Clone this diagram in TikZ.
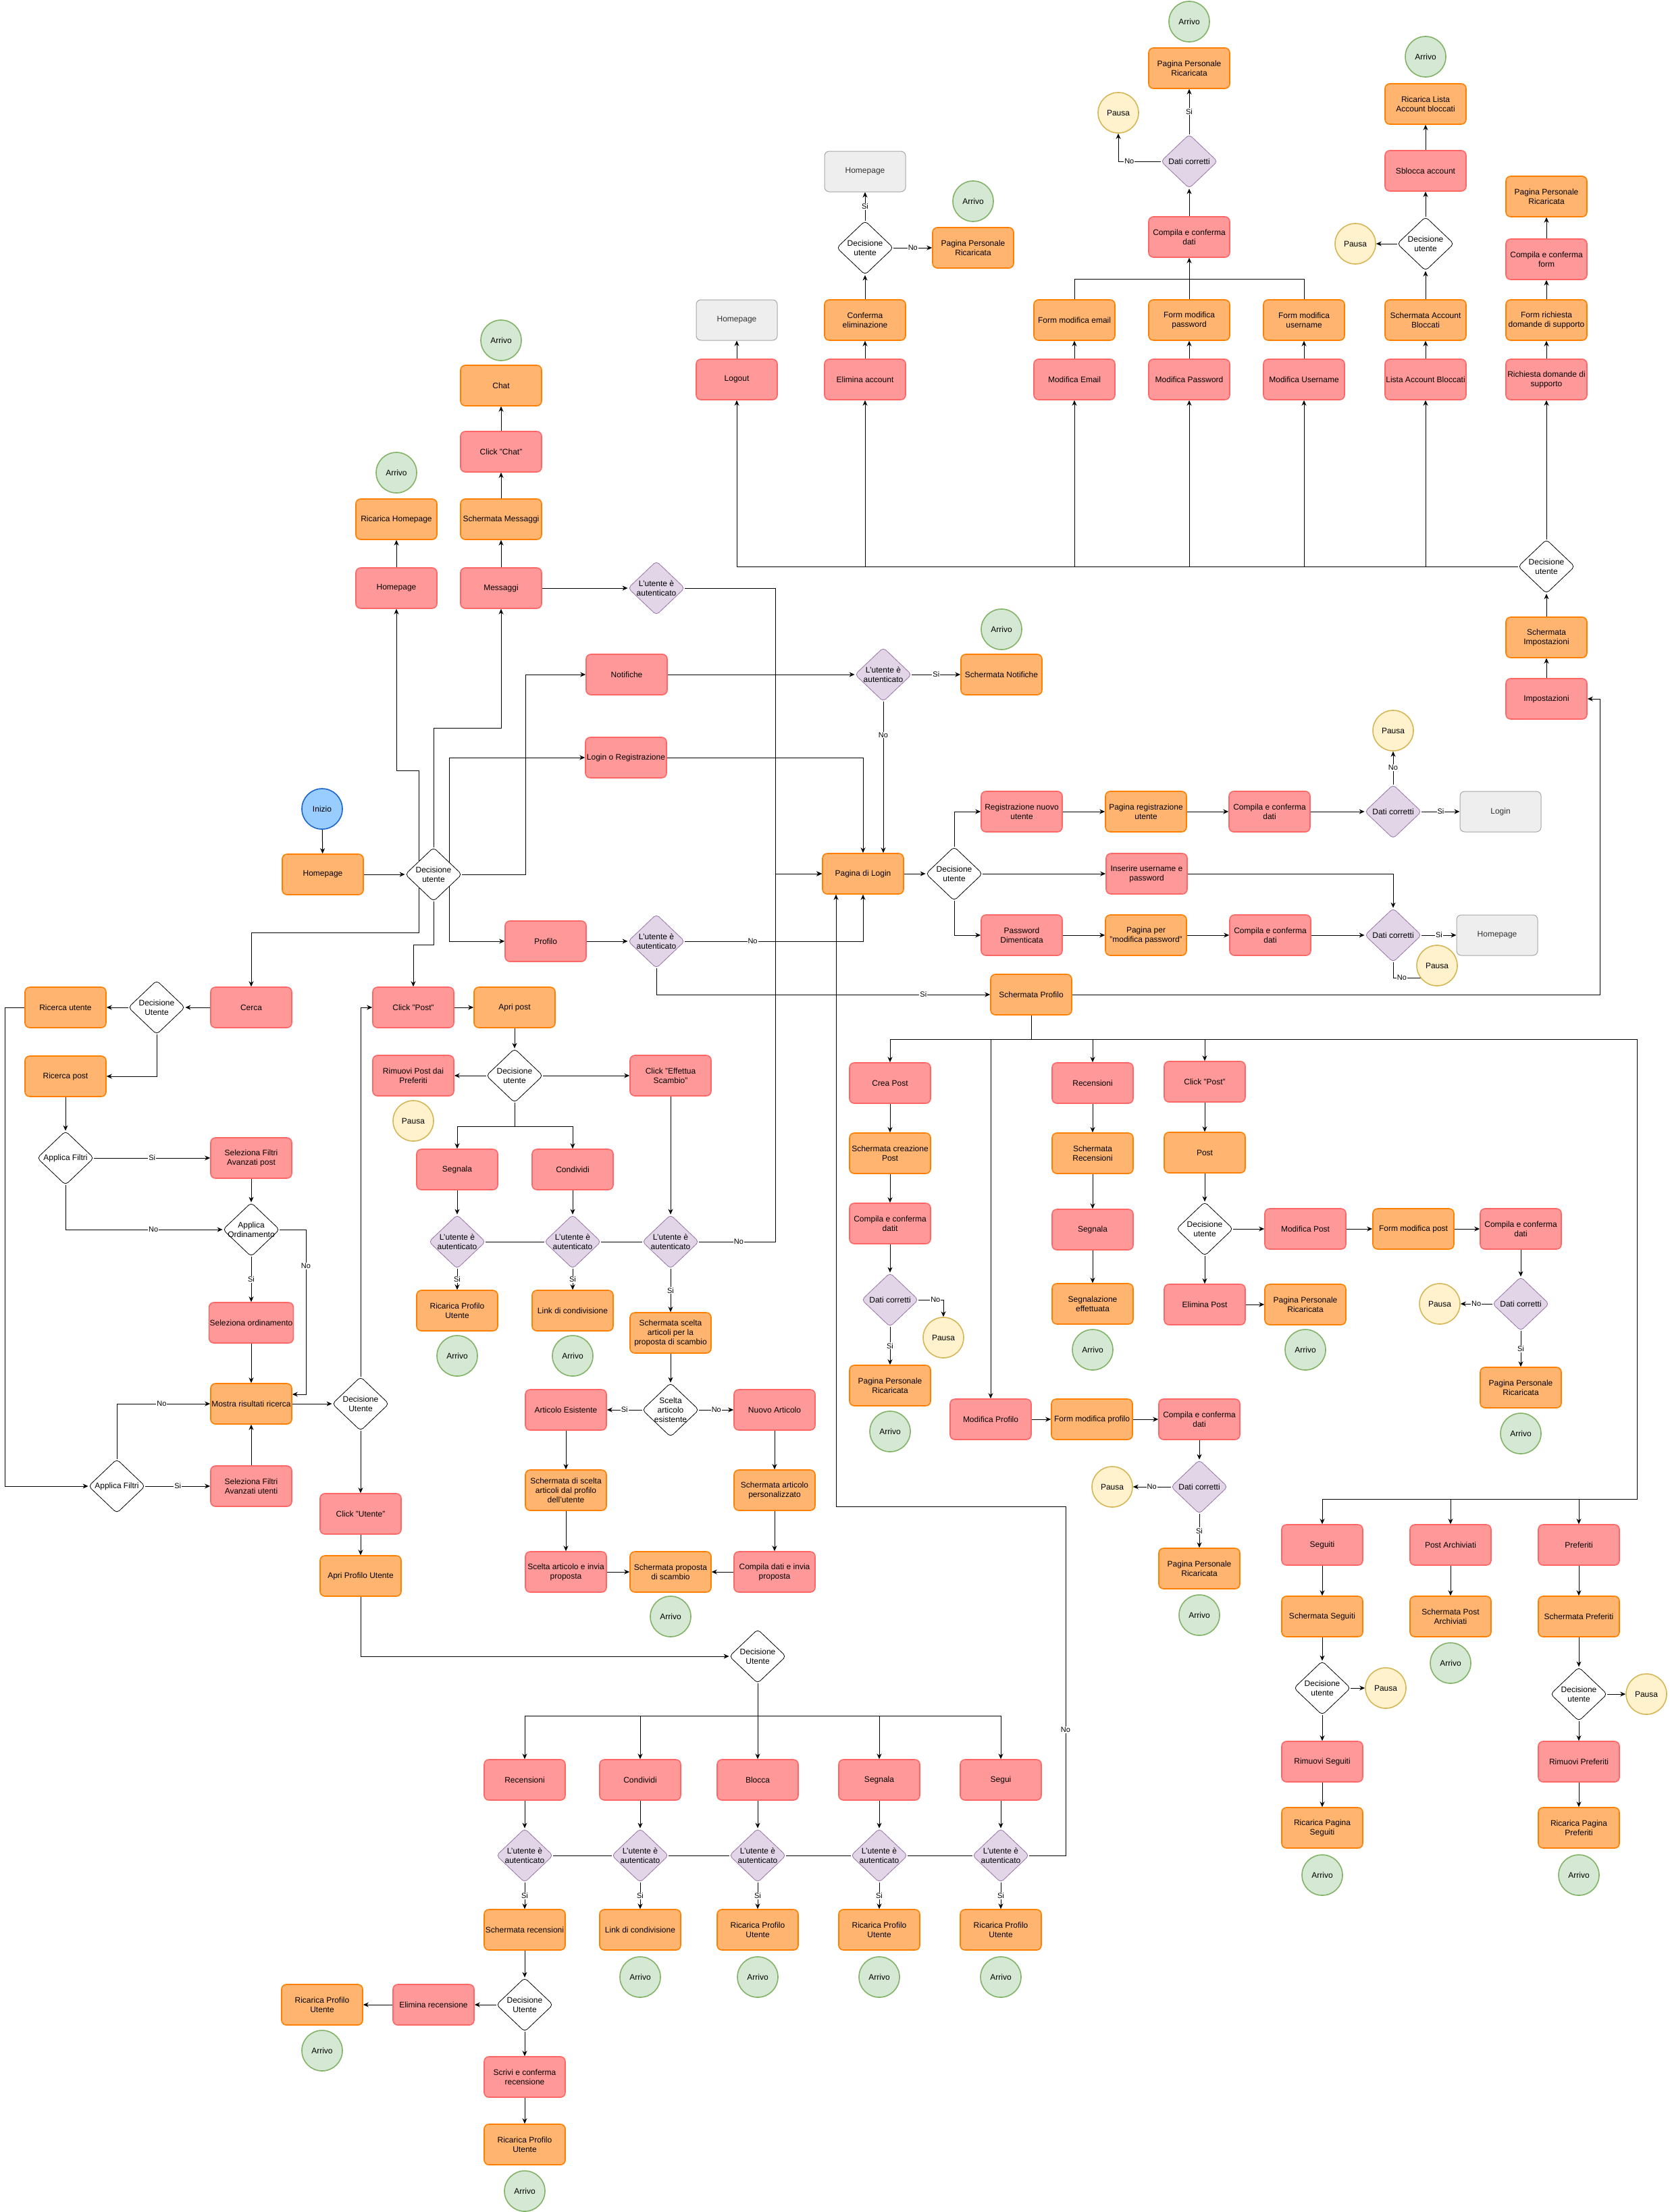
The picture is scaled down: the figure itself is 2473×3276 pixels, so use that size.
\documentclass[tikz,border=0pt]{standalone}
\usepackage{fontspec}
\setmainfont{Liberation Sans}
\usetikzlibrary{shapes.geometric,arrows.meta,backgrounds,calc}
\definecolor{rF}{HTML}{FF9999}
\definecolor{rD}{HTML}{FF6666}
\definecolor{oF}{HTML}{FFB570}
\definecolor{oD}{HTML}{FF8000}
\definecolor{gF}{HTML}{EEEEEE}
\definecolor{gD}{HTML}{A6A6A6}
\definecolor{gT}{HTML}{333333}
\definecolor{vF}{HTML}{D5E8D4}
\definecolor{vD}{HTML}{82B366}
\definecolor{yF}{HTML}{FFF2CC}
\definecolor{yD}{HTML}{D6B656}
\definecolor{pF}{HTML}{E1D5E7}
\definecolor{pD}{HTML}{9673A6}
\definecolor{bF}{HTML}{99CCFF}
\definecolor{bD}{HTML}{1A66CC}
\newcommand\mkdia[4]{\node[#1] (#2) at (#3) {}; \node[dtxt] at (#2.center) {#4};}
\begin{document}
\begin{tikzpicture}[x=1pt,y=-1pt,
  txtb/.style={font=\fontsize{12}{14}\selectfont, align=center},
  bx/.style={txtb, rectangle, rounded corners=7pt, minimum width=120pt, minimum height=60pt, inner sep=1pt, line width=1.6pt},
  rbox/.style={bx, fill=rF, draw=rD},
  obox/.style={bx, fill=oF, draw=oD},
  gbox/.style={bx, fill=gF, draw=gD, text=gT, line width=1pt},
  circ/.style={txtb, circle, minimum size=60pt, inner sep=0pt, line width=1.6pt},
  arrc/.style={circ, fill=vF, draw=vD},
  pauc/.style={circ, fill=yF, draw=yD},
  startc/.style={circ, fill=bF, draw=bD},
  dshape/.style={diamond, minimum width=84pt, minimum height=80pt, inner sep=0pt, rounded corners=5pt, line width=0.8pt},
  wdia/.style={dshape, fill=white, draw=black},
  pdia/.style={dshape, fill=pF, draw=pD},
  dtxt/.style={txtb, inner sep=0pt},
  ed/.style={draw=black, line width=1pt, -{Stealth[length=8pt,width=7pt,inset=2.5pt]}},
  ln/.style={draw=black, line width=1pt},
  lab/.style={font=\fontsize{11}{12}\selectfont, fill=white, inner sep=1pt, text=black}
]
\useasboundingbox (0,0) rectangle (2473,3276);
% ---------------- top settings ----------------
\node[gbox] (hpG1) at (1091,474) {Homepage};
\node[rbox] (logout) at (1091,562) {Logout};
\node[gbox] (hpG2) at (1281,254) {Homepage};
\mkdia{wdia}{decEl}{1281,367}{Decisione\\utente}
\node[obox] (ppr1) at (1441,367) {Pagina Personale\\Ricaricata};
\node[arrc] (arr1) at (1441,298) {Arrivo};
\node[obox] (confEl) at (1281,474) {Conferma\\eliminazione};
\node[rbox] (elimAcc) at (1281,562) {Elimina account};
\node[obox] (fEmail) at (1591,474) {Form modifica email};
\node[rbox] (mEmail) at (1591,562) {Modifica Email};
\node[obox] (fPwd) at (1761,474) {Form modifica\\password};
\node[rbox] (mPwd) at (1761,562) {Modifica Password};
\node[obox] (fUser) at (1931,474) {Form modifica\\username};
\node[rbox] (mUser) at (1931,562) {Modifica Username};
\node[rbox] (compTop) at (1761,351) {Compila e conferma\\dati};
\mkdia{pdia}{datiTop}{1761,239}{Dati corretti}
\node[obox] (pprTop) at (1761,101) {Pagina Personale\\Ricaricata};
\node[arrc] (arrTop) at (1761,32) {Arrivo};
\node[pauc] (pauTop) at (1656,167) {Pausa};
\node[obox] (schAB) at (2111,474) {Schermata Account\\Bloccati};
\node[rbox] (listaAB) at (2111,562) {Lista Account Bloccati};
\mkdia{wdia}{decAB}{2111,361}{Decisione\\utente}
\node[pauc] (pauAB) at (2007,361) {Pausa};
\node[rbox] (sblocca) at (2111,253) {Sblocca account};
\node[obox] (ricLista) at (2111,154) {Ricarica Lista\\Account bloccati};
\node[arrc] (arrAB) at (2111,84) {Arrivo};
\node[obox] (pprSup) at (2290,291) {Pagina Personale\\Ricaricata};
\node[rbox] (compForm) at (2290,384) {Compila e conferma\\form};
\node[obox] (formSup) at (2290,474) {Form richiesta\\domande di supporto};
\node[rbox] (richSup) at (2290,562) {Richiesta domande di\\supporto};
\mkdia{wdia}{decImp}{2290,839}{Decisione\\utente}
\node[obox] (schImp) at (2290,944) {Schermata\\Impostazioni};
\node[rbox] (imp) at (2290,1035) {Impostazioni};
% ---------------- messaggi / homepage ----------------
\node[arrc] (arrChat) at (742,504) {Arrivo};
\node[obox] (chat) at (742,571) {Chat};
\node[rbox] (clickChat) at (742,669) {Click "Chat"};
\node[obox] (schMsg) at (742,769) {Schermata Messaggi};
\node[rbox] (msg) at (742,871) {Messaggi};
\node[arrc] (arrHP) at (587,700) {Arrivo};
\node[obox] (ricHP) at (587,769) {Ricarica Homepage};
\node[rbox] (hpR) at (587,871) {Homepage};
\mkdia{pdia}{dMsg}{972,871}{L'utente è\\autenticato}
% ---------------- notifiche / login ----------------
\node[rbox] (notif) at (928,999) {Notifiche};
\mkdia{pdia}{dNot}{1308,999}{L'utente è\\autenticato}
\node[obox] (schNot) at (1483,999) {Schermata Notifiche};
\node[arrc] (arrNot) at (1483,932) {Arrivo};
\node[rbox] (lor) at (927,1122) {Login o Registrazione};
\node[startc] (inizio) at (477,1198) {Inizio};
\node[obox] (hpO) at (478,1295) {Homepage};
\mkdia{wdia}{dMain}{642,1295}{Decisione\\utente}
\node[rbox] (profilo) at (808,1394) {Profilo};
\mkdia{pdia}{dProf}{972,1394}{L'utente è\\autenticato}
\node[obox] (login) at (1278,1294) {Pagina di Login};
\mkdia{wdia}{dLog}{1413,1294}{Decisione\\utente}
\node[rbox] (regNu) at (1513,1202) {Registrazione nuovo\\utente};
\node[obox] (pagReg) at (1697,1202) {Pagina registrazione\\utente};
\node[rbox] (compReg) at (1880,1202) {Compila e conferma\\dati};
\mkdia{pdia}{datiReg}{2063,1202}{Dati corretti}
\node[pauc] (pauReg) at (2063,1082) {Pausa};
\node[gbox] (loginG) at (2222,1202) {Login};
\node[rbox] (insUP) at (1698,1294) {Inserire username e\\password};
\node[rbox] (pwdDim) at (1513,1385) {Password\\Dimenticata};
\node[obox] (pagPwd) at (1697,1385) {Pagina per\\"modifica password"};
\node[rbox] (compPwd) at (1881,1385) {Compila e conferma\\dati};
\mkdia{pdia}{datiPwd}{2063,1385}{Dati corretti}
\node[gbox] (hpG3) at (2217,1385) {Homepage};
\node[pauc] (pauPwd) at (2128,1430) {Pausa};
\node[obox] (schProf) at (1527,1473) {Schermata Profilo};
% ---------------- profilo subtree ----------------
\node[rbox] (creaPost) at (1318,1604) {Crea Post};
\node[obox] (schCrea) at (1318,1708) {Schermata creazione\\Post};
\node[rbox] (compCrea) at (1318,1812) {Compila e conferma\\datit};
\mkdia{pdia}{datiCrea}{1318,1925}{Dati corretti}
\node[pauc] (pauCrea) at (1397,1981) {Pausa};
\node[obox] (pprCrea) at (1318,2052) {Pagina Personale\\Ricaricata};
\node[arrc] (arrCrea) at (1318,2120) {Arrivo};
\node[rbox] (recP) at (1618,1604) {Recensioni};
\node[obox] (schRecP) at (1618,1708) {Schermata\\Recensioni};
\node[rbox] (segP) at (1618,1821) {Segnala};
\node[obox] (segEff) at (1618,1931) {Segnalazione\\effettuata};
\node[arrc] (arrSeg) at (1618,1999) {Arrivo};
\node[rbox] (clickPostP) at (1784,1602) {Click "Post"};
\node[obox] (postP) at (1784,1707) {Post};
\mkdia{wdia}{decPostP}{1784,1820}{Decisione\\utente}
\node[rbox] (modPost) at (1933,1820) {Modifica Post};
\node[obox] (formPost) at (2093,1820) {Form modifica post};
\node[rbox] (compPost) at (2252,1820) {Compila e conferma\\dati};
\mkdia{pdia}{datiPost}{2252,1931}{Dati corretti}
\node[pauc] (pauPost) at (2132,1931) {Pausa};
\node[obox] (pprPost) at (2252,2055) {Pagina Personale\\Ricaricata};
\node[arrc] (arrPost) at (2252,2123) {Arrivo};
\node[rbox] (elimPost) at (1784,1932) {Elimina Post};
\node[obox] (pprElim) at (1933,1932) {Pagina Personale\\Ricaricata};
\node[arrc] (arrElim) at (1933,1999) {Arrivo};
\node[rbox] (modProf) at (1467,2102) {Modifica Profilo};
\node[obox] (formProf) at (1617,2102) {Form modifica profilo};
\node[rbox] (compProf) at (1776,2102) {Compila e conferma\\dati};
\mkdia{pdia}{datiProf}{1776,2202}{Dati corretti}
\node[pauc] (pauProf) at (1647,2202) {Pausa};
\node[obox] (pprProf) at (1776,2323) {Pagina Personale\\Ricaricata};
\node[arrc] (arrProf) at (1776,2392) {Arrivo};
\node[rbox] (seguiti) at (1958,2288) {Seguiti};
\node[obox] (schSeg) at (1958,2394) {Schermata Seguiti};
\mkdia{wdia}{decSeg}{1958,2500}{Decisione\\utente}
\node[pauc] (pauSeg) at (2052,2500) {Pausa};
\node[rbox] (rimSeg) at (1958,2609) {Rimuovi Seguiti};
\node[obox] (ricSeg) at (1958,2707) {Ricarica Pagina\\Seguiti};
\node[arrc] (arrSegu) at (1958,2777) {Arrivo};
\node[rbox] (postArch) at (2148,2288) {Post Archiviati};
\node[obox] (schArch) at (2148,2394) {Schermata Post\\Archiviati};
\node[arrc] (arrArch) at (2148,2463) {Arrivo};
\node[rbox] (pref) at (2338,2288) {Preferiti};
\node[obox] (schPref) at (2338,2394) {Schermata Preferiti};
\mkdia{wdia}{decPref}{2338,2509}{Decisione\\utente}
\node[pauc] (pauPref) at (2438,2509) {Pausa};
\node[rbox] (rimPref) at (2338,2609) {Rimuovi Preferiti};
\node[obox] (ricPref) at (2338,2707) {Ricarica Pagina\\Preferiti};
\node[arrc] (arrPref) at (2338,2777) {Arrivo};
% ---------------- ricerca ----------------
\node[rbox] (cerca) at (372,1492) {Cerca};
\mkdia{wdia}{decCerca}{232,1492}{Decisione\\Utente}
\node[obox] (ricUt) at (97,1492) {Ricerca utente};
\node[obox] (ricPost) at (97,1594) {Ricerca post};
\mkdia{wdia}{appF1}{97,1715}{Applica Filtri}
\node[rbox] (selFP) at (372,1715) {Seleziona Filtri\\Avanzati post};
\mkdia{wdia}{appOrd}{372,1821}{Applica\\Ordinamento}
\node[rbox] (selOrd) at (372,1959) {Seleziona ordinamento};
\node[obox] (mostra) at (372,2079) {Mostra risultati ricerca};
\mkdia{wdia}{appF2}{173,2201}{Applica Filtri}
\node[rbox] (selFU) at (372,2201) {Seleziona Filtri\\Avanzati utenti};
\mkdia{wdia}{decMostra}{534,2079}{Decisione\\Utente}
\node[rbox] (clickUt) at (534,2242) {Click "Utente"};
\node[obox] (apriProf) at (534,2334) {Apri Profilo Utente};
% ---------------- post ----------------
\node[rbox] (clickPost) at (612,1492) {Click "Post"};
\node[obox] (apriPost) at (762,1492) {Apri post};
\mkdia{wdia}{decPost}{762,1593}{Decisione\\utente}
\node[rbox] (rimPP) at (612,1593) {Rimuovi Post dai\\Preferiti};
\node[pauc] (pauPP) at (612,1660) {Pausa};
\node[rbox] (effSc) at (993,1593) {Click "Effettua\\Scambio"};
\node[rbox] (segA) at (677,1732) {Segnala};
\node[rbox] (condA) at (848,1732) {Condividi};
\mkdia{pdia}{dSegA}{677,1839}{L'utente è\\autenticato}
\mkdia{pdia}{dCondA}{848,1839}{L'utente è\\autenticato}
\mkdia{pdia}{dEff}{993,1839}{L'utente è\\autenticato}
\node[obox] (ricA) at (677,1941) {Ricarica Profilo\\Utente};
\node[arrc] (arrA) at (677,2008) {Arrivo};
\node[obox] (linkA) at (848,1941) {Link di condivisione};
\node[arrc] (arrB) at (848,2008) {Arrivo};
\node[obox] (schScelta) at (993,1974) {Schermata scelta\\articoli per la\\proposta di scambio};
\mkdia{wdia}{sceltaEs}{993,2088}{Scelta\\articolo\\esistente}
\node[rbox] (artEs) at (838,2088) {Articolo Esistente};
\node[rbox] (nuovoArt) at (1147,2088) {Nuovo Articolo};
\node[obox] (schSceltaProf) at (838,2207) {Schermata di scelta\\articoli dal profilo\\dell'utente};
\node[rbox] (sceltaInv) at (838,2328) {Scelta articolo e invia\\proposta};
\node[obox] (schProp) at (993,2328) {Schermata proposta\\di scambio};
\node[arrc] (arrProp) at (993,2394) {Arrivo};
\node[obox] (schArtPers) at (1147,2207) {Schermata articolo\\personalizzato};
\node[rbox] (compInv) at (1147,2328) {Compila dati e invia\\proposta};
% ---------------- profilo utente (basso) ----------------
\mkdia{wdia}{decLow}{1122,2453}{Decisione\\Utente}
\node[rbox] (recL) at (777,2636) {Recensioni};
\node[rbox] (condL) at (948,2636) {Condividi};
\node[rbox] (blocL) at (1122,2636) {Blocca};
\node[rbox] (segL) at (1302,2636) {Segnala};
\node[rbox] (seguiL) at (1482,2636) {Segui};
\mkdia{pdia}{dRecL}{777,2748}{L'utente è\\autenticato}
\mkdia{pdia}{dCondL}{948,2748}{L'utente è\\autenticato}
\mkdia{pdia}{dBlocL}{1122,2748}{L'utente è\\autenticato}
\mkdia{pdia}{dSegL}{1302,2748}{L'utente è\\autenticato}
\mkdia{pdia}{dSeguiL}{1482,2748}{L'utente è\\autenticato}
\node[obox] (schRecL) at (777,2858) {Schermata recensioni};
\node[obox] (linkL) at (948,2858) {Link di condivisione};
\node[arrc] (arrL1) at (948,2928) {Arrivo};
\node[obox] (ricBloc) at (1122,2858) {Ricarica Profilo\\Utente};
\node[arrc] (arrL2) at (1122,2928) {Arrivo};
\node[obox] (ricSegL) at (1302,2858) {Ricarica Profilo\\Utente};
\node[arrc] (arrL3) at (1302,2928) {Arrivo};
\node[obox] (ricSegui) at (1482,2858) {Ricarica Profilo\\Utente};
\node[arrc] (arrL4) at (1482,2928) {Arrivo};
\mkdia{wdia}{decRec}{777,2969}{Decisione\\Utente}
\node[rbox] (elimRec) at (642,2969) {Elimina recensione};
\node[obox] (ricRec1) at (477,2969) {Ricarica Profilo\\Utente};
\node[arrc] (arrR1) at (477,3037) {Arrivo};
\node[rbox] (scrivi) at (777,3076) {Scrivi e conferma\\recensione};
\node[obox] (ricRec2) at (777,3176) {Ricarica Profilo\\Utente};
\node[arrc] (arrR2) at (777,3245) {Arrivo};
% helper coordinates
\coordinate (hl) at (0,1539);
\coordinate (hl2) at (0,2220);
\coordinate (hl3) at (0,2541);
% ================= connectors =================
\begin{scope}[on background layer]
\fill[white] (0,0) rectangle (2473,3276);
% top settings
\foreach \a/\b in {logout/hpG1,elimAcc/confEl,confEl/decEl,mEmail/fEmail,mPwd/fPwd,mUser/fUser,fPwd/compTop,compTop/datiTop,listaAB/schAB,schAB/decAB,decAB/pauAB,decAB/sblocca,sblocca/ricLista,richSup/formSup,formSup/compForm,compForm/pprSup,imp/schImp,schImp/decImp,decImp/richSup}
  \draw[ed] (\a) -- (\b);
\draw[ed] (decEl) -- node[lab]{Si} (hpG2);
\draw[ed] (decEl) -- node[lab]{No} (ppr1);
\draw[ln] (fEmail.north) -- (1591,413) -- (1931,413) -- (fUser.north);
\draw[ed] (datiTop) -- node[lab]{Si} (pprTop);
\draw[ed] (datiTop.west) -| node[lab,pos=0.37]{No} (pauTop.south);
\draw[ln] (decImp.west) -- (1091,839);
\foreach \n in {logout,elimAcc,mEmail,mPwd,mUser,listaAB}
  \draw[ed] (\n.south |- decImp.west) -- (\n.south);
% messaggi
\foreach \a/\b in {hpR/ricHP,msg/schMsg,schMsg/clickChat,clickChat/chat,msg/dMsg,notif/dNot,inizio/hpO,hpO/dMain,profilo/dProf}
  \draw[ed] (\a) -- (\b);
\draw[ed] (dMsg.east) -- (1148,871) -- (1148,1294) -- (login.west);
\draw[ed] (dNot) -- node[lab]{Si} (schNot);
\draw[ed] (dNot.south) -- node[lab,pos=0.22]{No} (dNot.south |- login.north);
\draw[ed] (lor.east) -| (login.north);
% main decision
\draw[ed] ($(dMain)+(-22,0)$) -- (620,1141) -- (587,1141) -- (hpR.south);
\draw[ed] (dMain.north) -- (642,1078) -- (742,1078) -- (msg.south);
\draw[ed] (dMain.east) -- (778,1295) -- (778,999) -- (notif.west);
\draw[ed] ($(dMain)+(23,0)$) |- (lor.west);
\draw[ed] ($(dMain)+(23,0)$) |- (profilo.west);
\draw[ed] ($(dMain)+(-22,0)$) -- (620,1381) -- (372,1381) -- (cerca.north);
\draw[ed] (dMain.south) -- (642,1399) -- (612,1399) -- (clickPost.north);
\draw[ed] (dProf.east) -| node[lab,pos=0.19]{No} (login.south);
\draw[ed] (dProf.south) |- node[lab,pos=0.9]{Si} (schProf.west);
\draw[ed] (schProf.east) -- (2369,1473) -- (2369,1035) -- (imp.east);
\draw[ln] (schProf.south) -- (schProf.south |- hl);
\draw[ln] (creaPost.north |- hl) -- (2424,1539) -- (2424,2220) -- (seguiti.north |- hl2);
\foreach \n in {creaPost,recP,clickPostP,modProf}
  \draw[ed] (\n.north |- hl) -- (\n.north);
\foreach \n in {seguiti,postArch,pref}
  \draw[ed] (\n.north |- hl2) -- (\n.north);
% login
\foreach \a/\b in {login/dLog,dLog/insUP,regNu/pagReg,pagReg/compReg,compReg/datiReg,pwdDim/pagPwd,pagPwd/compPwd,compPwd/datiPwd}
  \draw[ed] (\a) -- (\b);
\draw[ed] (dLog.north) |- (regNu.west);
\draw[ed] (dLog.south) |- (pwdDim.west);
\draw[ed] (datiReg) -- node[lab]{Si} (loginG);
\draw[ed] (datiReg) -- node[lab]{No} (pauReg);
\draw[ed] (insUP.east) -| (datiPwd.north);
\draw[ed] (datiPwd) -- node[lab]{Si} (hpG3);
\draw[ln] (datiPwd.south) |- node[lab,pos=0.6]{No} ($(pauPwd)+(0,18)$);
% profilo subtree
\foreach \a/\b in {creaPost/schCrea,schCrea/compCrea,compCrea/datiCrea,recP/schRecP,schRecP/segP,segP/segEff,clickPostP/postP,postP/decPostP,decPostP/modPost,modPost/formPost,formPost/compPost,compPost/datiPost,decPostP/elimPost,elimPost/pprElim,modProf/formProf,formProf/compProf,compProf/datiProf,seguiti/schSeg,schSeg/decSeg,decSeg/pauSeg,decSeg/rimSeg,rimSeg/ricSeg,postArch/schArch,pref/schPref,schPref/decPref,decPref/pauPref,decPref/rimPref,rimPref/ricPref}
  \draw[ed] (\a) -- (\b);
\draw[ed] (datiCrea.east) -| node[lab,pos=0.34]{No} (pauCrea.north);
\draw[ed] (datiCrea) -- node[lab]{Si} (pprCrea);
\draw[ed] (datiPost) -- node[lab]{No} (pauPost);
\draw[ed] (datiPost) -- node[lab]{Si} (pprPost);
\draw[ed] (datiProf) -- node[lab]{No} (pauProf);
\draw[ed] (datiProf) -- node[lab]{Si} (pprProf);
% ricerca
\foreach \a/\b in {cerca/decCerca,decCerca/ricUt,ricPost/appF1,selFP/appOrd,selOrd/mostra,selFU/mostra,mostra/decMostra,decMostra/clickUt,clickUt/apriProf}
  \draw[ed] (\a) -- (\b);
\draw[ed] (decCerca.south) |- (ricPost.east);
\draw[ed] (appF1) -- node[lab]{Si} (selFP);
\draw[ed] (appF1.south) |- node[lab,pos=0.78]{No} (appOrd.west);
\draw[ed] (appOrd) -- node[lab]{Si} (selOrd);
\draw[ed] (appOrd.east) -| node[lab,pos=0.61]{No} (453,2065) -- ($(mostra.east)+(0,-14)$);
\draw[ed] (ricUt.west) -| (7,2201) -- (appF2.west);
\draw[ed] (appF2.north) |- node[lab,pos=0.74]{No} (mostra.west);
\draw[ed] (appF2) -- node[lab]{Si} (selFU);
\draw[ed] (decMostra.north) |- (clickPost.west);
\draw[ed] (apriProf.south) |- (decLow.west);
% post
\foreach \a/\b in {clickPost/apriPost,apriPost/decPost,decPost/rimPP,decPost/effSc,segA/dSegA,condA/dCondA,effSc/dEff,schScelta/sceltaEs,artEs/schSceltaProf,schSceltaProf/sceltaInv,sceltaInv/schProp,nuovoArt/schArtPers,schArtPers/compInv,compInv/schProp}
  \draw[ed] (\a) -- (\b);
\draw[ln] (decPost.south) -- (762,1668);
\draw[ed] (762,1668) -| (segA.north);
\draw[ed] (762,1668) -| (condA.north);
\draw[ln] (dSegA) -- (dCondA);
\draw[ln] (dCondA) -- (dEff);
\draw[ed] (dEff.east) -| node[lab,pos=0.26]{No} (1148,1294) -- (login.west);
\draw[ed] (dSegA) -- node[lab]{Si} (ricA);
\draw[ed] (dCondA) -- node[lab]{Si} (linkA);
\draw[ed] (dEff) -- node[lab]{Si} (schScelta);
\draw[ed] (sceltaEs) -- node[lab]{Si} (artEs);
\draw[ed] (sceltaEs) -- node[lab]{No} (nuovoArt);
% lower
\draw[ln] (decLow.south) -- (decLow.south |- hl3);
\draw[ln] (recL.north |- hl3) -- (seguiL.north |- hl3);
\foreach \n in {recL,condL,blocL,segL,seguiL}
  \draw[ed] (\n.north |- hl3) -- (\n.north);
\foreach \a/\b in {recL/dRecL,condL/dCondL,blocL/dBlocL,segL/dSegL,seguiL/dSeguiL,schRecL/decRec,decRec/elimRec,elimRec/ricRec1,decRec/scrivi,scrivi/ricRec2}
  \draw[ed] (\a) -- (\b);
\foreach \a/\b in {dRecL/dCondL,dCondL/dBlocL,dBlocL/dSegL,dSegL/dSeguiL}
  \draw[ln] (\a) -- (\b);
\foreach \a/\b in {dRecL/schRecL,dCondL/linkL,dBlocL/ricBloc,dSegL/ricSegL,dSeguiL/ricSegui}
  \draw[ed] (\a) -- node[lab]{Si} (\b);
\draw[ed] (dSeguiL.east) -| node[lab,pos=0.68]{No} (1578,2231) -| ($(login.south)+(-40,0)$);
\end{scope}
\end{tikzpicture}
\end{document}
